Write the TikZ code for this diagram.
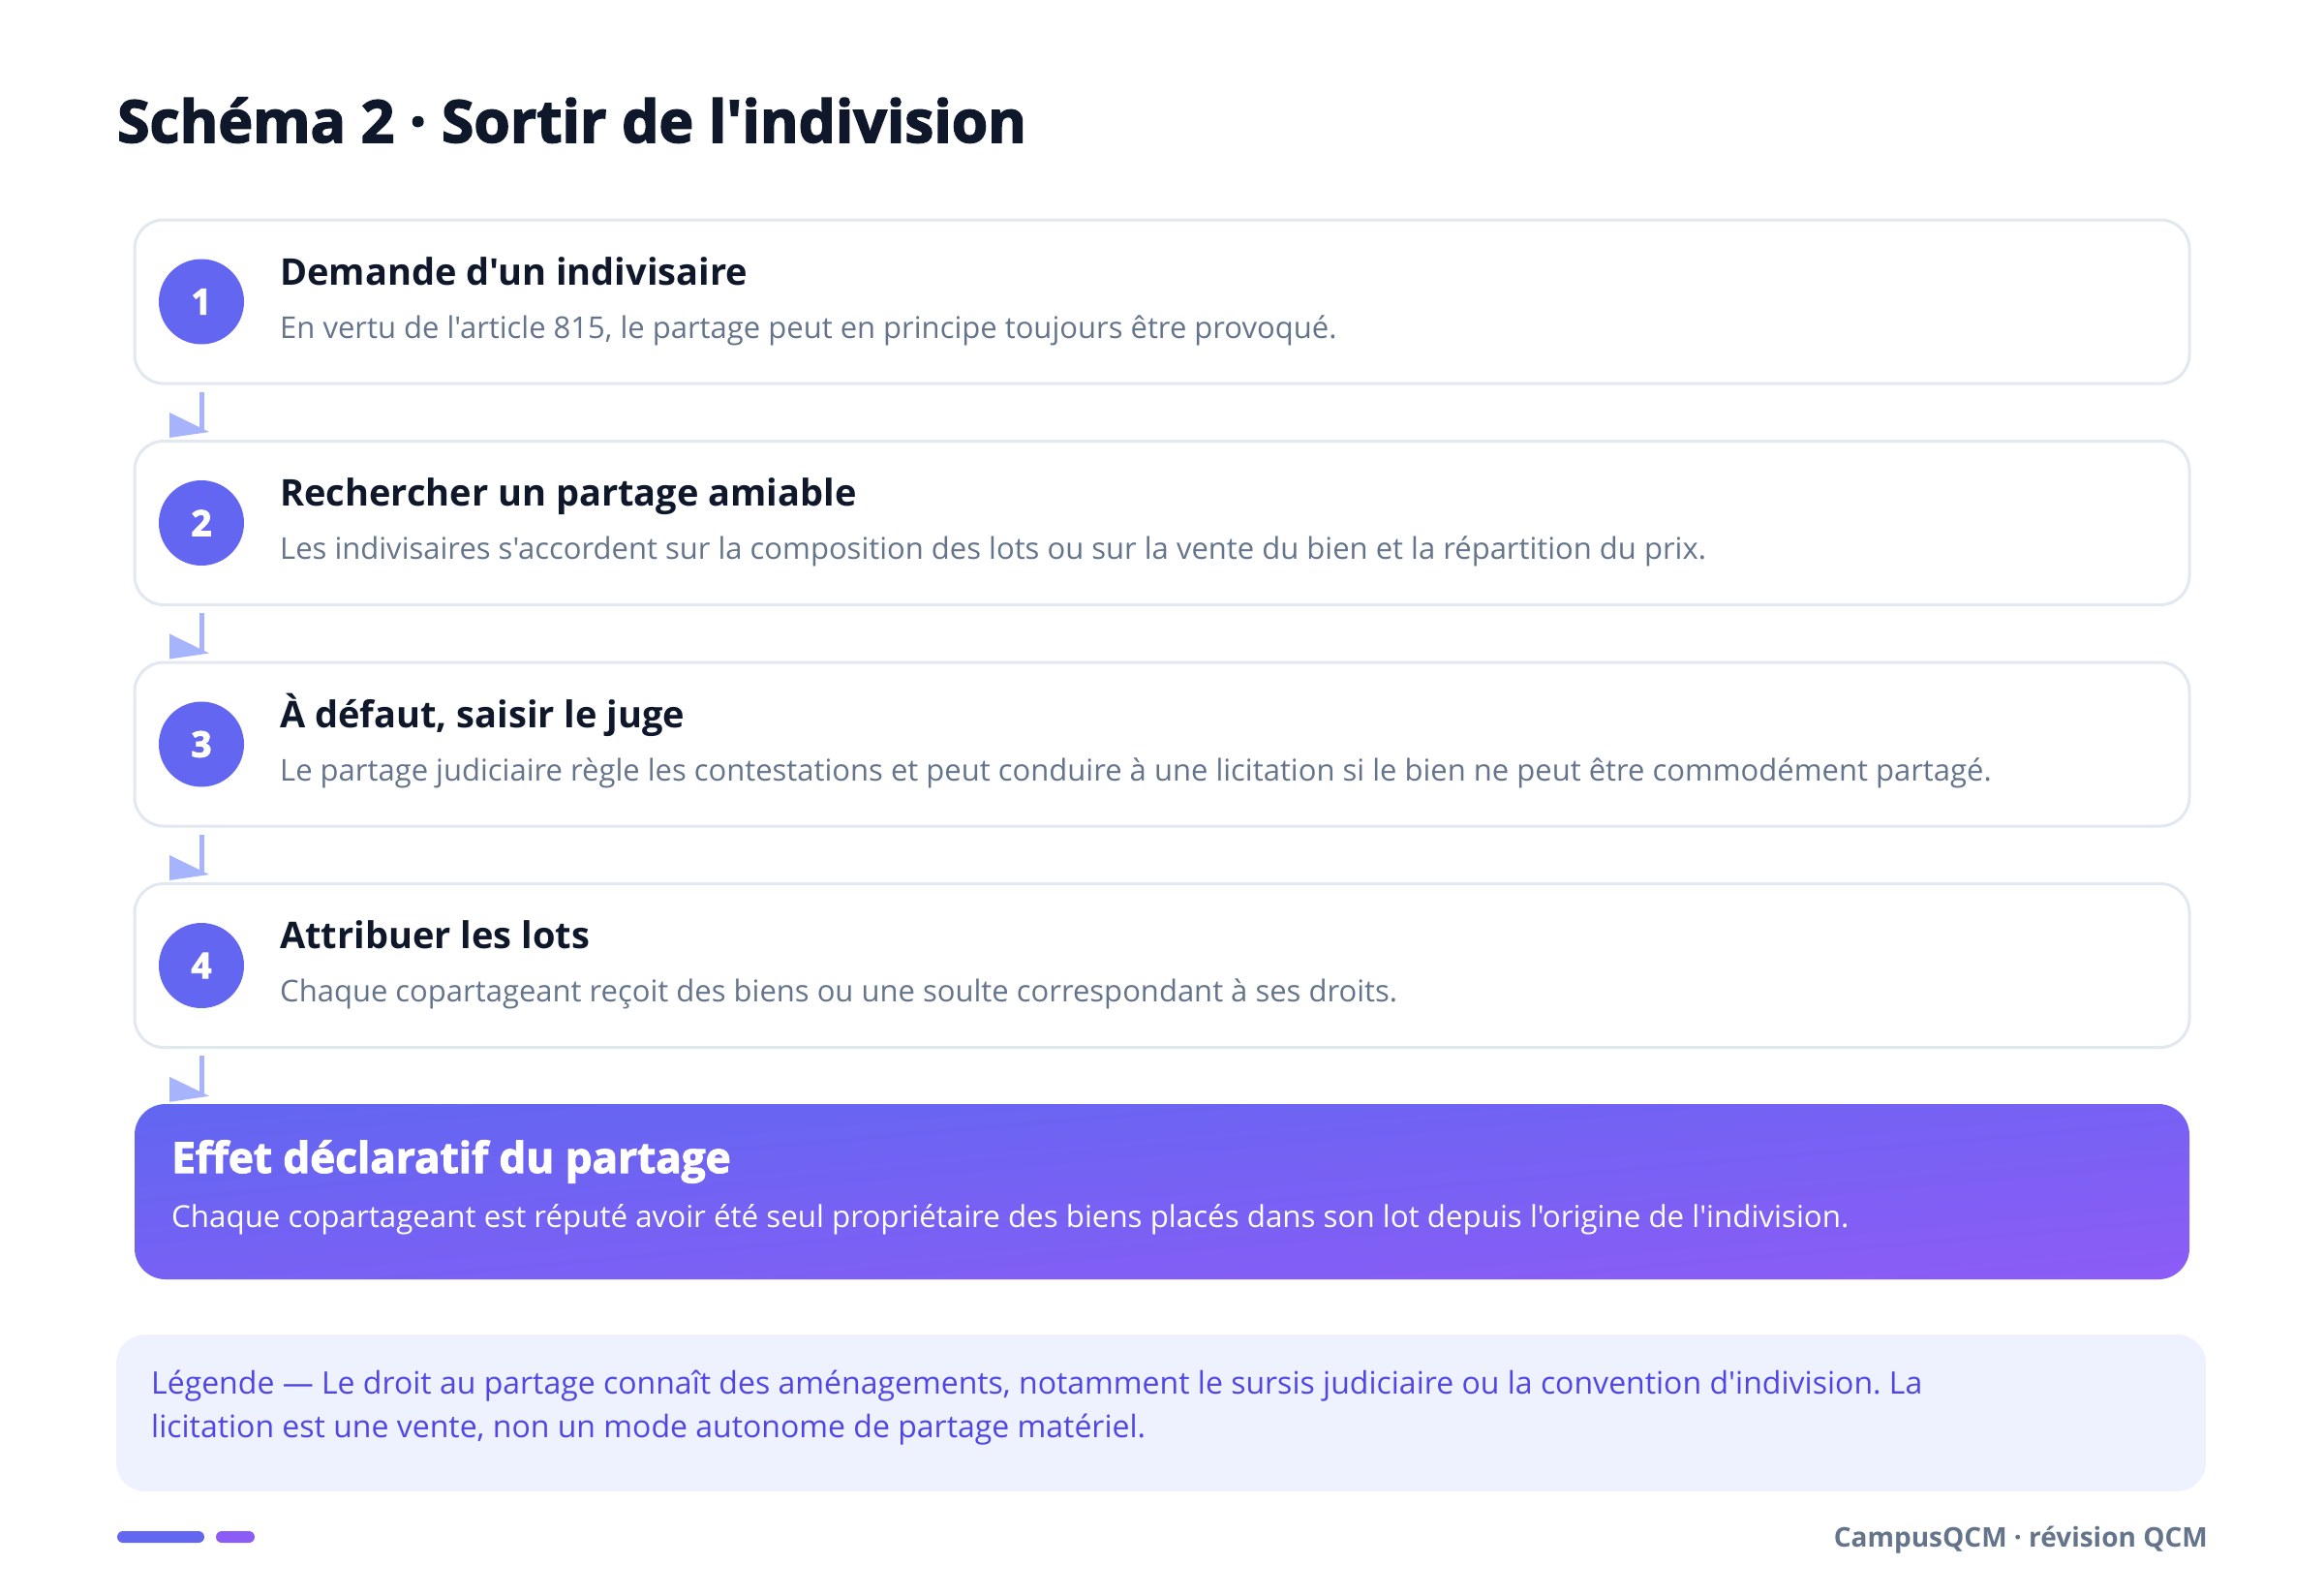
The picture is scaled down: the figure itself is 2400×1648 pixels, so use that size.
\documentclass[tikz,border=0pt]{standalone}
\usepackage{fontspec}
\setmainfont{Open Sans}[Ligatures=TeXOff]
\newcommand\heavyset{\bfseries\addfontfeature{FakeBold=2.5}}
\definecolor{ink}{HTML}{0F172A}
\definecolor{muted}{HTML}{64748B}
\definecolor{indigo}{HTML}{6366F1}
\definecolor{violet}{HTML}{8B5CF6}
\definecolor{connc}{HTML}{A5B4FC}
\definecolor{border}{HTML}{E2E8F0}
\definecolor{legfill}{HTML}{EEF2FF}
\definecolor{legtext}{HTML}{4F46E5}
\frenchspacing
\begin{document}
\begin{tikzpicture}[x=1pt,y=-1pt,
  card/.style={draw=border, line width=3pt, fill=white, rounded corners=30pt,
    minimum width=2122pt, minimum height=169pt, inner sep=0pt},
  numc/.style={circle, fill=indigo, minimum size=88pt, inner sep=0pt,
    text=white, font=\fontsize{37}{40}\heavyset},
  head/.style={anchor=base west, inner sep=0pt, text=ink, font=\bfseries\fontsize{38}{44}\selectfont},
  desc/.style={anchor=base west, inner sep=0pt, text=muted, font=\fontsize{31}{36}\selectfont},
  conn/.style={draw=connc, line width=5pt},
  connhead/.style={fill=connc},
  finalbox/.style={rounded corners=32pt, minimum width=2122pt, minimum height=181pt,
    inner sep=0pt, top color=indigo, bottom color=violet, shading angle=5},
  legbox/.style={fill=legfill, rounded corners=30pt, minimum width=2158pt,
    minimum height=162pt, inner sep=0pt},
  legtxt/.style={anchor=base west, inner sep=0pt, text=legtext, font=\fontsize{32}{36}\selectfont},
  pill/.style={rounded corners=6pt, minimum height=12pt, inner sep=0pt}
]
\useasboundingbox[fill=white] (0,0) rectangle (2400,1648);

\node[anchor=base west, inner sep=0pt, text=ink,
  font=\fontsize{60.5}{72}\heavyset] (title) at (121,147)
  {Schéma 2 · Sortir de l'indivision};

\foreach \i/\cy/\hd/\ds in {
  1/311.5/{Demande d'un indivisaire}/{En vertu de l'article 815, le partage peut en principe toujours être provoqué.},
  2/540/{Rechercher un partage amiable}/{Les indivisaires s'accordent sur la composition des lots ou sur la vente du bien et la répartition du prix.},
  3/768.5/{À défaut, saisir le juge}/{Le partage judiciaire règle les contestations et peut conduire à une licitation si le bien ne peut être commodément partagé.},
  4/997/{Attribuer les lots}/{Chaque copartageant reçoit des biens ou une soulte correspondant à ses droits.}}{
  \node[card] (card\i) at (1200,\cy) {};
  \node[numc] (num\i) at (208,\cy) {\i};
  \node[head] (head\i) at (289,\cy-17.5) {\hd};
  \node[desc] (desc\i) at (289,\cy+37.5) {\ds};
}

\node[finalbox] (final) at (1200,1230.5) {};
\node[anchor=base west, inner sep=0pt, text=white,
  font=\fontsize{44}{52}\heavyset] (finalhead) at (177,1211)
  {Effet déclaratif du partage};
\node[anchor=base west, inner sep=0pt, text=white, font=\fontsize{31.3}{36}\selectfont]
  (finaldesc) at (177,1267)
  {Chaque copartageant est réputé avoir été seul propriétaire des biens placés dans son lot depuis l'origine de l'indivision.};

% connectors
\foreach \a/\b in {card1/card2, card2/card3, card3/card4, card4/final}{
  \draw[conn] ([yshift=-7pt]\a.south -| num1.center) coordinate (s-\a)
     -- ([yshift=10pt]\b.north -| num1.center) coordinate (e-\a);
  \fill[connhead] (e-\a) ++(8,2) -- ++(-41,-20) -- ++(0,26) -- cycle;
}

\node[legbox] (legend) at (1199,1459) {};
\node[legtxt] (leg1) at (156,1439) {Légende — Le droit au partage connaît des aménagements, notamment le sursis judiciaire ou la convention d'indivision. La};
\node[legtxt] (leg2) at (156,1484) {licitation est une vente, non un mode autonome de partage matériel.};

\node[pill, fill=indigo, minimum width=90pt] (pill1) at (166,1587) {};
\node[pill, fill=violet, minimum width=40pt] (pill2) at (243,1587) {};
\node[anchor=base east, inner sep=0pt, text=muted, font=\bfseries\fontsize{28}{32}\selectfont]
  (footer) at (2280,1597) {CampusQCM · révision QCM};
\end{tikzpicture}
\end{document}
